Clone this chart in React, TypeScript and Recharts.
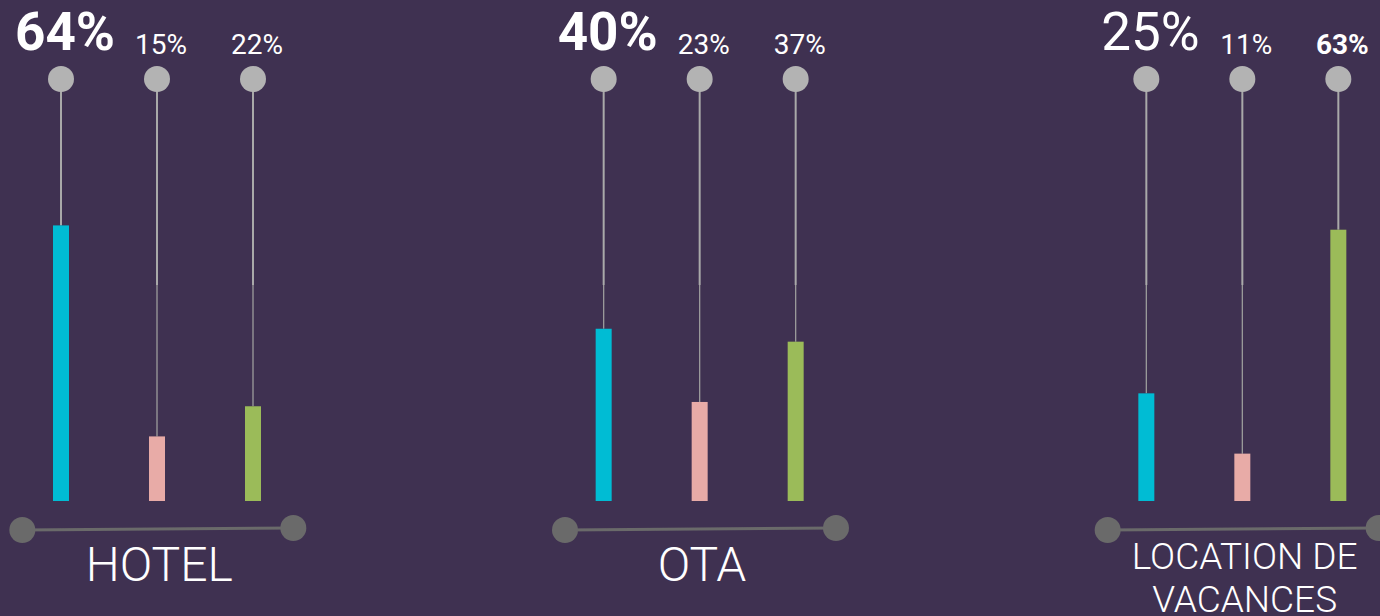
import React from 'react';
import { BarChart, Bar, XAxis, YAxis } from 'recharts';

const categories = ['HOTEL', 'OTA', 'LOCATION DE VACANCES'];
const seriesA = [64, 40, 25];
const seriesB = [15, 23, 11];
const seriesC = [22, 37, 63];

const data = categories.map((name, i) => ({ name, a: seriesA[i], b: seriesB[i], c: seriesC[i] }));
const groupMax = categories.map((_, i) => Math.max(seriesA[i], seriesB[i], seriesC[i]));

const BG = '#3f3151';
const TOP = 79; // plot top = pin circle centre
const SPLIT = 285;
const FONT = 'Roboto, "Noto Sans", sans-serif';

// bar with pin: circle on top, thin stem down to the bar, value label above
const makeShape = (vals: number[], color: string, big: boolean) => (props: any) => {
  const { x, y, width, height, index } = props;
  const cx = x + width / 2;
  const isMax = vals[index] === groupMax[index];
  return (
    <g>
      <line x1={cx} x2={cx} y1={TOP + 12} y2={Math.min(SPLIT, y)} stroke="#a9a9a9" strokeWidth={2} />
      {y > SPLIT && <line x1={cx} x2={cx} y1={SPLIT} y2={y} stroke="#9c9c9c" strokeWidth={1.3} />}
      <circle cx={cx} cy={TOP} r={13} fill="#b3b3b3" />
      <rect x={x} y={y} width={width} height={height} fill={color} />
      <text
        x={cx + 4}
        y={big ? 50 : 54}
        textAnchor="middle"
        fill="#ffffff"
        fontFamily={FONT}
        fontSize={big ? 53 : 28}
        fontWeight={isMax ? 700 : 400}
      >
        {vals[index]}%
      </text>
    </g>
  );
};

const wrap = (s: string, max = 11) => {
  const out: string[] = [];
  let cur = '';
  s.split(' ').forEach(w => {
    if (cur && (cur + ' ' + w).length > max) {
      out.push(cur);
      cur = w;
    } else {
      cur = cur ? cur + ' ' + w : w;
    }
  });
  if (cur) out.push(cur);
  return out;
};

const GroupTick = (props: any) => {
  const { x, y, payload } = props;
  const lines = wrap(String(payload.value));
  const multi = lines.length > 1;
  return (
    <g>
      <line x1={x - 135} y1={y + 29} x2={x + 136} y2={y + 27} stroke="#6a6a6a" strokeWidth={3} />
      <circle cx={x - 135} cy={y + 29} r={13} fill="#6a6a6a" />
      <circle cx={x + 136} cy={y + 27} r={13} fill="#6a6a6a" />
      {lines.map((l, i) => (
        <text
          key={i}
          x={x + 2}
          y={multi ? y + 68 + i * 43 : y + 80}
          textAnchor="middle"
          fill="#ffffff"
          fontFamily={FONT}
          fontSize={multi ? 37 : 48}
          fontWeight={300}
        >
          {l}
        </text>
      ))}
    </g>
  );
};

export default function App() {
  return (
    <div style={{ position: 'fixed', left: 0, top: 0, width: 1380, height: 616, overflow: 'hidden', background: BG }}>
      <div style={{ position: 'absolute', left: -114, top: 0 }}>
        <BarChart
          width={1628}
          height={616}
          data={data}
          margin={{ top: TOP, right: 0, bottom: 0, left: 0 }}
          barGap={80}
        >
          <XAxis
            dataKey="name"
            height={115}
            axisLine={false}
            tickLine={false}
            tickSize={0}
            tickMargin={0}
            interval={0}
            tick={(p: any) => <GroupTick {...p} />}
          />
          <YAxis hide domain={[0, 98]} />
          <Bar dataKey="a" barSize={16} fill="#00bcd4" isAnimationActive={false} shape={makeShape(seriesA, '#00bcd4', true)} />
          <Bar dataKey="b" barSize={16} fill="#e8aba7" isAnimationActive={false} shape={makeShape(seriesB, '#e8aba7', false)} />
          <Bar dataKey="c" barSize={16} fill="#9bbb59" isAnimationActive={false} shape={makeShape(seriesC, '#9bbb59', false)} />
        </BarChart>
      </div>
    </div>
  );
}
